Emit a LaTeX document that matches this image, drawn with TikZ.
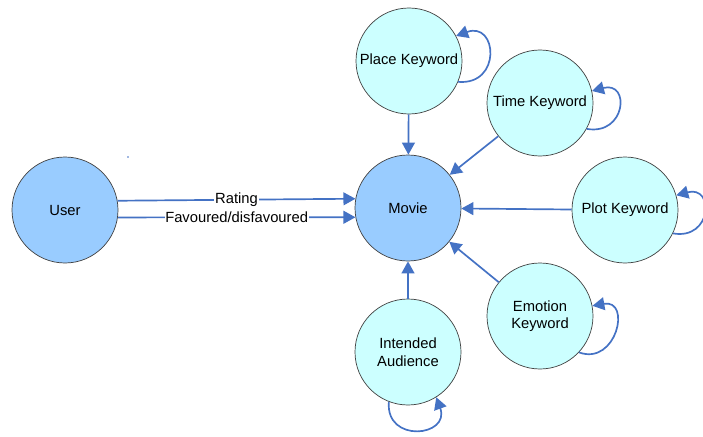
\documentclass[tikz,border=0pt]{standalone}
\usepackage{fontspec}
\setmainfont{Liberation Sans}
\usepackage{tikz}
\usetikzlibrary{arrows.meta}

\definecolor{linkblue}{RGB}{68,114,196}
\definecolor{mainfill}{RGB}{153,204,255}
\definecolor{keyfill}{RGB}{204,255,255}

\begin{document}
\begin{tikzpicture}[
    entity/.style={draw=black!75, circle, minimum size=2.65cm, inner sep=0pt, align=center, line width=0.5pt, font=\fontsize{10.5}{12.5}\selectfont},
    link/.style={-{Triangle[length=3mm, width=3.2mm]}, line width=1.2pt, linkblue},
    tag/.style={fill=white, text=black, inner sep=0.5pt, font=\fontsize{10.5}{12.5}\selectfont},
]
  \useasboundingbox (0,0) rectangle (17.575,10.9);

  \node[entity, fill=mainfill] (user) at (1.625, 5.65) {User};
  \node[entity, fill=mainfill] (movie) at (10.2, 5.7) {Movie};

  \node[entity, fill=keyfill] (place) at (10.225, 9.375) {Place Keyword};
  \node[entity, fill=keyfill] (time) at (13.5, 8.325) {Time Keyword};
  \node[entity, fill=keyfill] (plot) at (15.625, 5.65) {Plot Keyword};
  \node[entity, fill=keyfill] (emotion) at (13.5, 3.0) {Emotion \\ Keyword};
  \node[entity, fill=keyfill] (audience) at (10.2, 2.1) {Intended \\ Audience};

  % user to movie
  \draw[link] (user.10) -- node[tag] {Rating} (movie.170);
  \draw[link] (user.-8) -- node[tag] {Favoured/disfavoured} (movie.190);

  % keywords to movie
  \draw[link] (place) -- (movie);
  \draw[link] (time) -- (movie);
  \draw[link] (plot) -- (movie);
  \draw[link] (emotion) -- (movie);
  \draw[link] (audience) -- (movie);

  % self loops
  \draw[link] (place.-23) to[out=-5, in=20, distance=1.1cm] (place.28);
  \draw[link] (time.-29) to[out=-10, in=15, distance=1cm] (time.13);
  \draw[link] (plot.-26) to[out=-10, in=15, distance=1cm] (plot.16);
  \draw[link] (emotion.-43) to[out=-20, in=10, distance=1cm] (emotion.11);
  \draw[link] (audience.-111) to[out=-95, in=-70, distance=1.05cm] (audience.-58);

  \fill[linkblue] (3.2, 6.975) circle (0.6pt);
\end{tikzpicture}
\end{document}
